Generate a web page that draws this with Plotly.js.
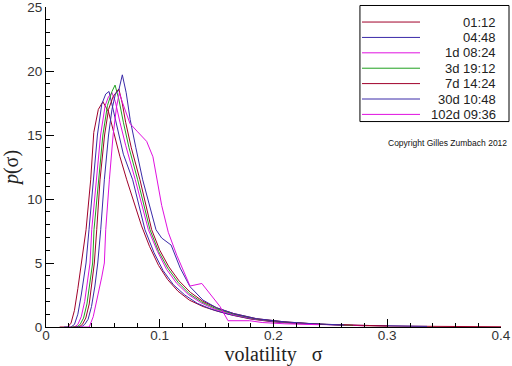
<!DOCTYPE html>
<html>
<head>
<meta charset="utf-8">
<script src="https://cdn.plot.ly/plotly-3.0.1.min.js"></script>
<style>html,body{margin:0;padding:0;background:#fff;}#chart{width:512px;height:366px;}</style>
</head>
<body>
<div id="chart"></div>
<script>
// Series labels and colours
var labels = ["01:12", "04:48", "1d 08:24", "3d 19:12", "7d 14:24", "30d 10:48", "102d 09:36"];
var colors = ["#a0002a", "#3a2aa8", "#e010e0", "#20a020", "#a0002a", "#3a2aa8", "#e010e0"];

// volatility sigma values and densities p(sigma), one pair per series
var x1 = [0.012,0.019,0.022,0.025,0.028,0.031,0.0352,0.0393,0.042,0.046,0.050,0.055,0.060,0.065,0.071,0.078,0.084,0.091,0.099,0.107,0.116,0.126,0.138,0.150,0.165,0.180,0.200,0.220,0.250,0.280,0.320,0.360,0.400];
var y1 = [0,0,0.3,1.3,3.0,5.0,7.6,11.5,15.2,17.0,17.6,16.8,15.0,13.3,11.5,9.6,7.9,6.3,4.8,3.7,2.8,2.1,1.6,1.25,0.9,0.62,0.4,0.27,0.16,0.1,0.06,0.04,0.02];

var x2 = [0.016,0.022,0.025,0.028,0.031,0.0352,0.0378,0.0416,0.0452,0.049,0.0525,0.0554,0.059,0.063,0.068,0.0762,0.087,0.095,0.103,0.112,0.122,0.133,0.145,0.160,0.180,0.200,0.230,0.260,0.300,0.335];
var y2 = [0,0,0.2,1.0,2.5,5.0,7.6,11.5,15.0,17.4,18.2,18.4,17.0,15.2,13.5,11.5,7.6,5.8,4.4,3.3,2.5,1.85,1.4,1.0,0.65,0.42,0.25,0.15,0.08,0.05];

var x3 = [0.020,0.025,0.028,0.031,0.034,0.0365,0.0387,0.0402,0.044,0.048,0.052,0.055,0.058,0.061,0.065,0.070,0.0785,0.090,0.098,0.106,0.115,0.125,0.136,0.148,0.165,0.185,0.210,0.240,0.280];
var y3 = [0,0,0.2,0.8,2.0,3.6,5.0,7.6,11.5,15.0,17.3,18.0,18.3,17.6,16.0,14.2,11.5,7.6,5.9,4.5,3.4,2.55,1.9,1.4,0.95,0.6,0.37,0.2,0.1];

var x4 = [0.022,0.027,0.030,0.033,0.036,0.039,0.041,0.0422,0.046,0.050,0.054,0.058,0.0607,0.064,0.068,0.073,0.0806,0.0914,0.099,0.107,0.116,0.126,0.137,0.149,0.165,0.185,0.210,0.240,0.270];
var y4 = [0,0,0.2,0.7,1.8,3.5,5.0,7.6,11.5,15.0,17.3,18.4,18.9,17.8,16.0,14.0,11.5,7.6,5.9,4.6,3.5,2.6,1.95,1.45,1.0,0.62,0.38,0.22,0.13];

var x5 = [0.024,0.029,0.032,0.035,0.038,0.0405,0.0425,0.0446,0.0475,0.0515,0.055,0.059,0.0615,0.064,0.067,0.070,0.075,0.0826,0.0929,0.100,0.108,0.117,0.127,0.138,0.150,0.165,0.185,0.210,0.240,0.270,0.300];
var y5 = [0,0,0.2,0.7,1.8,3.4,5.0,7.6,11.5,15.0,17.0,18.0,18.3,18.6,17.5,16.0,14.0,11.5,7.6,6.0,4.7,3.6,2.7,2.0,1.5,1.05,0.65,0.4,0.22,0.13,0.08];

var x6 = [0.026,0.031,0.034,0.037,0.040,0.043,0.0455,0.0481,0.0513,0.055,0.058,0.061,0.064,0.0671,0.0705,0.074,0.079,0.085,0.0967,0.1017,0.110,0.118,0.1266,0.138,0.150,0.165,0.185,0.210,0.235,0.262];
var y6 = [0,0,0.2,0.6,1.6,3.2,5.0,7.6,11.5,15.0,17.0,18.2,18.5,19.7,18.3,16.2,14.0,11.5,7.6,6.95,6.4,4.6,3.15,2.1,1.5,1.05,0.65,0.4,0.25,0.16];

var x7 = [0.030,0.038,0.0415,0.044,0.0465,0.049,0.0513,0.0525,0.0557,0.059,0.062,0.0645,0.067,0.0705,0.0738,0.080,0.0885,0.094,0.0979,0.1017,0.1075,0.115,0.1266,0.137,0.153,0.160,0.179,0.190,0.210,0.240];
var y7 = [0,0,0.8,1.8,2.8,3.9,5.0,7.6,11.5,15.0,17.2,18.3,17.6,16.8,15.9,15.3,14.5,13.3,11.5,9.5,7.4,5.6,3.2,3.4,1.6,0.49,0.49,0.35,0.25,0.18];

var xs = [x1, x2, x3, x4, x5, x6, x7];
var ys = [y1, y2, y3, y4, y5, y6, y7];

var xTickVals = [0, 0.1, 0.2, 0.3, 0.4];
var xTickText = ["0", "0.1", "0.2", "0.3", "0.4"];
var yTickVals = [0, 5, 10, 15, 20, 25];
var yTickText = ["0", "5", "10", "15", "20", "25"];

var traces = [];
for (var i = 0; i < xs.length; i++) {
  traces.push({
    x: xs[i], y: ys[i], type: "scatter", mode: "lines", name: labels[i],
    line: {color: colors[i], width: 1}, showlegend: false
  });
}

// Hand-built legend (right-aligned labels as in the original)
var shapes = [{
  type: "rect", xref: "paper", yref: "paper",
  x0: 0.690, x1: 1.0176, y0: 0.642, y1: 1.0047,
  line: {color: "#000", width: 1}, fillcolor: "rgba(0,0,0,0)"
}];
var annotations = [];
var rowTop = 0.953, rowStep = 0.0481;
for (var j = 0; j < labels.length; j++) {
  var yy = rowTop - j * rowStep;
  shapes.push({type: "line", xref: "paper", yref: "paper", x0: 0.6945, x1: 0.822, y0: yy, y1: yy,
    line: {color: colors[j], width: 1}});
  annotations.push({xref: "paper", yref: "paper", x: 0.9934, y: yy, xanchor: "right", yanchor: "middle",
    text: labels[j], showarrow: false, font: {family: "Liberation Sans, Arial, sans-serif", size: 13, color: "#222"}});
}
annotations.push({xref: "paper", yref: "paper", x: 1.0176, y: 0.575, xanchor: "right", yanchor: "middle",
  text: "Copyright Gilles Zumbach 2012", showarrow: false,
  font: {family: "Liberation Sans, Arial, sans-serif", size: 8.5, color: "#111"}});

var layout = {
  width: 512, height: 366,
  margin: {l: 46, r: 11, t: 7, b: 39},
  paper_bgcolor: "#fff", plot_bgcolor: "#fff",
  font: {family: "Liberation Sans, Arial, sans-serif", size: 13.5, color: "#333"},
  xaxis: {
    range: [0, 0.4], showgrid: false, zeroline: false,
    showline: true, linecolor: "#000", linewidth: 1,
    ticks: "inside", ticklen: 8, tickcolor: "#000", tickwidth: 1,
    ticklabelstandoff: -4,
    tickvals: xTickVals, ticktext: xTickText,
    minor: {dtick: 0.02, ticks: "inside", ticklen: 4, tickcolor: "#000", showgrid: false},
    title: {text: "volatility&nbsp;&nbsp;&nbsp;σ", standoff: 6,
      font: {family: "Liberation Serif, Times New Roman, serif", size: 20, color: "#222"}}
  },
  yaxis: {
    range: [0, 25], showgrid: false, zeroline: false,
    showline: true, linecolor: "#000", linewidth: 1,
    ticks: "inside", ticklen: 8, tickcolor: "#000", tickwidth: 1,
    ticklabeloverflow: "allow",
    tickvals: yTickVals, ticktext: yTickText,
    minor: {dtick: 1, ticks: "inside", ticklen: 4, tickcolor: "#000", showgrid: false},
    title: {text: "<i>p</i>(σ)", standoff: 4,
      font: {family: "Liberation Serif, Times New Roman, serif", size: 20, color: "#222"}}
  },
  shapes: shapes,
  annotations: annotations
};

Plotly.newPlot("chart", traces, layout, {staticPlot: true, displayModeBar: false});
</script>
</body>
</html>
